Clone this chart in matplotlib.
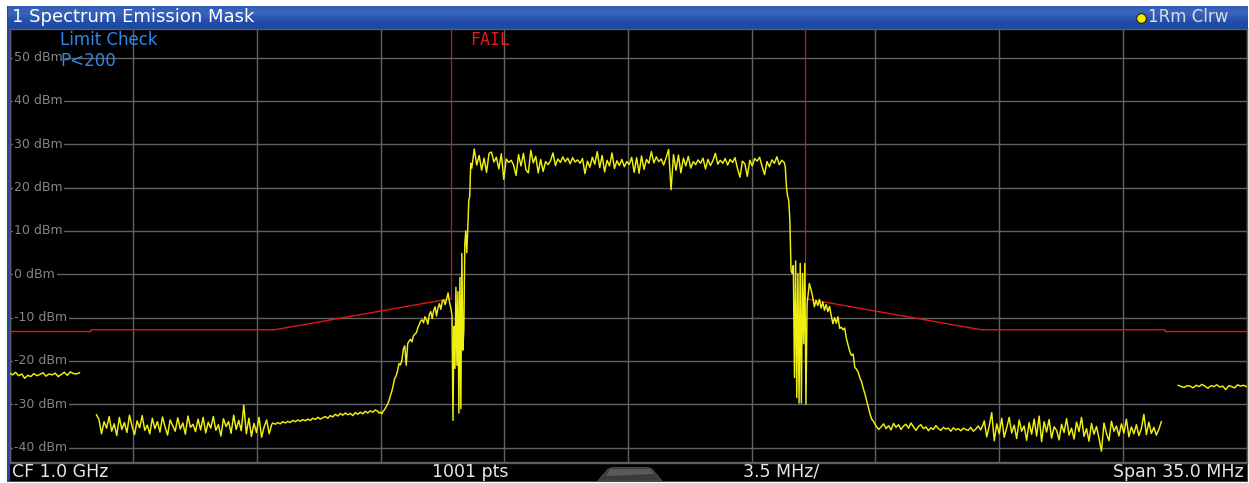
import numpy as np
import matplotlib
matplotlib.use('Agg')
import matplotlib.pyplot as plt
from matplotlib.patches import Polygon

W, H = 1249, 483

def box(x0, y0, x1, y1):
    # pixel box (top-left origin) -> figure fraction
    return [x0 / W, 1 - y1 / H, (x1 - x0) / W, (y1 - y0) / H]

#%% trace data (MHz offset from CF, dBm)

# left outer segment
lo_f = (-17.5, -15.52)
lo_dbm = [-22.8, -23.2, -22.6, -23.4, -23.0, -24.0, -23.3, -23.6, -22.9, -23.4, -23.1, -22.7,
          -23.5, -23.0, -23.2, -22.8, -23.6, -23.1, -22.6, -23.3, -22.5, -22.9, -23.0, -22.7]

# right outer segment
hi_f = (15.57, 17.5)
hi_dbm = [-25.6, -25.9, -26.1, -25.7, -25.8, -26.2, -25.6, -25.9, -25.4, -25.8, -26.3, -25.7,
          -25.9, -25.5, -26.0, -25.8, -26.6, -25.7, -25.9, -26.2, -25.5, -25.8, -25.6, -25.9]

# main trace, piece by piece
floor_l_f = (-15.04, -10.08)
floor_l = [-32.4, -33.5, -36.8, -34.0, -35.5, -32.8, -36.2, -34.5, -37.2, -33.0, -35.8, -34.2,
           -36.5, -32.5, -35.0, -37.0, -33.8, -35.4, -32.6, -36.0, -34.8, -36.8, -33.2, -35.6,
           -34.0, -36.4, -32.9, -35.2, -37.1, -33.6, -34.9, -36.2, -33.1, -35.7, -34.3, -36.9,
           -32.7, -35.3, -34.6, -36.3, -33.4, -35.9, -33.0, -36.6, -34.1, -35.5, -32.8, -36.0,
           -34.7, -37.3, -33.3, -35.1, -34.0, -36.7, -32.5, -35.8, -33.7, -36.1, -30.2, -36.8,
           -33.2, -37.4, -34.4, -36.5, -33.0, -37.6, -35.2, -33.6, -36.8, -34.6]

smooth_l_f = (-10.05, -7.08)
smooth_l = [-34.3, -34.6, -34.2, -34.5, -34.0, -34.3, -33.9, -34.2, -33.7, -34.0, -33.6, -33.9,
            -33.5, -33.8, -33.4, -33.7, -33.2, -33.5, -33.0, -33.4, -33.1, -32.8, -33.2, -32.6,
            -32.9, -32.3, -32.7, -32.1, -32.5, -32.0, -32.4, -32.1, -32.6, -31.9, -32.3, -31.8,
            -32.2, -31.6, -32.0, -31.5, -31.8, -31.3, -31.6]

rise_l_f = (-7.05, -5.01)
rise_l = [-32.0, -31.8, -32.2, -31.6, -31.2, -30.6, -30.0, -29.2, -28.0, -27.0, -25.6, -24.0,
          -23.4, -22.2, -20.6, -20.9, -19.8, -17.2, -16.5, -21.0, -16.0, -15.4, -15.0, -15.6,
          -14.2, -13.8, -13.5, -12.4, -11.6, -10.8, -10.5, -11.2, -9.8, -10.4, -11.5, -9.3,
          -8.6, -10.2, -8.4, -7.5, -9.6, -7.8, -6.8, -8.1, -6.2, -5.9, -7.0, -5.6, -4.3, -6.4, -7.9]

edge_l_f = (-4.98, -4.45)
edge_l = [-9.5, -33.7, -12.0, -21.7, -3.0, -21.0, -4.0, -32.0, -0.7, -31.0, 4.8, -17.5,
          -13.0, 7.0, 10.0, 5.0, 10.5, 17.0, 18.0, 25.6]

plateau_f = (-4.42, 4.42)
plateau = [24.5, 28.9, 25.2, 27.4, 24.0, 26.8, 23.5, 27.9, 28.2, 25.9, 27.0, 24.3,
           27.8, 21.9, 26.6, 25.8, 26.3, 25.2, 22.8, 27.6, 25.0, 27.9, 24.1, 23.4,
           28.6, 25.7, 27.2, 23.4, 26.5, 23.7, 26.0, 25.3, 26.2, 28.0, 25.1, 26.6,
           25.8, 27.1, 26.0, 26.8, 25.5, 26.9, 25.9, 26.4, 25.6, 26.7, 23.2, 26.1,
           24.7, 27.0, 25.4, 28.3, 24.6, 27.4, 23.6, 26.3, 25.0, 28.0, 24.4, 26.2,
           25.1, 26.5, 24.8, 26.0, 25.3, 27.0, 23.5, 26.9, 23.3, 27.3, 24.2, 26.5,
           25.6, 28.3, 25.7, 27.1, 26.0, 26.6, 25.2, 26.9, 28.8, 19.5, 27.6, 24.0,
           27.5, 23.4, 26.8, 25.0, 27.2, 24.5, 26.0, 25.3, 26.4, 25.6, 26.8, 24.3,
           26.5, 25.1, 26.2, 27.9, 25.4, 26.3, 25.6, 26.7, 25.2, 26.5, 25.8, 26.9,
           24.4, 22.4, 26.1, 25.5, 22.6, 26.3, 25.0, 26.7, 26.1, 27.0, 24.9, 23.0,
           26.0, 24.8, 26.4, 25.6, 27.1, 25.3, 26.3, 25.8]

edge_r_f = (4.45, 5.10)
edge_r = [24.8, 20.2, 18.0, 17.1, 12.5, 0.9, 0.2, 2.0, -23.8, 3.1, -28.4, 0.2,
          -29.7, 2.5, -29.7, 0.2, -16.0, 2.5, -30.0, -6.7, -4.5]

skirt_r_f = (5.13, 6.99)
skirt_r = [-2.1, -3.5, -5.2, -7.5, -6.0, -7.2, -5.8, -7.8, -6.4, -8.3, -7.0, -8.6,
           -7.4, -9.5, -11.4, -10.0, -11.3, -9.8, -12.5, -12.2, -12.8, -12.4, -14.8, -16.3,
           -17.8, -18.7, -18.4, -21.5, -21.9, -22.6, -23.9, -24.8, -26.3, -27.6, -29.1, -30.6,
           -32.2, -33.4, -33.9, -34.6]

floor_r_f = (7.02, 10.05)
floor_r = [-35.0, -35.8, -35.2, -34.5, -35.6, -34.9, -35.9, -34.4, -35.3, -34.7, -35.8, -35.0,
           -34.6, -35.5, -34.3, -35.2, -36.0, -35.1, -34.7, -35.6, -35.2, -36.1, -35.4, -35.8,
           -34.9, -35.6, -36.0, -35.3, -35.7, -35.5, -36.2, -35.4, -35.9, -35.6, -36.1, -35.5,
           -35.8, -36.0, -35.3, -36.2, -35.7, -35.0, -35.9, -34.6]

noisy_r_f = (10.08, 15.09)
noisy_r = [-33.8, -37.5, -35.0, -31.9, -38.4, -34.5, -36.8, -33.2, -37.6, -35.4, -33.0, -36.6,
           -34.8, -37.9, -33.6, -36.2, -35.0, -38.3, -34.2, -36.9, -33.4, -37.3, -32.7, -38.6,
           -34.0, -36.4, -33.5, -37.8, -35.2, -36.0, -38.2, -34.6, -36.5, -33.3, -37.1, -35.5,
           -38.0, -34.1, -36.3, -33.0, -37.4, -35.6, -38.5, -34.4, -36.9, -35.1, -37.8, -40.8,
           -34.3, -36.7, -38.4, -33.9, -36.2, -35.0, -37.3, -34.5, -36.6, -33.4, -37.5, -35.2,
           -36.8, -34.7, -37.2, -35.6, -32.3, -37.0, -34.1, -36.7, -35.3, -37.1, -35.8, -34.0]

main_pieces = [(floor_l_f, floor_l), (smooth_l_f, smooth_l), (rise_l_f, rise_l),
               (edge_l_f, edge_l), (plateau_f, plateau), (edge_r_f, edge_r),
               (skirt_r_f, skirt_r), (floor_r_f, floor_r), (noisy_r_f, noisy_r)]

# limit line (SEM mask)
limit_f = [-17.5, -15.2, -15.2, -10.0, -5.0, 5.0, 10.0, 15.2, 15.2, 17.5]
limit_dbm = [-13.2, -13.2, -12.8, -12.8, -5.6, -5.6, -12.8, -12.8, -13.2, -13.2]
edge_freqs = [-5.0, 5.0]

y_ticks = [50, 40, 30, 20, 10, 0, -10, -20, -30, -40]
span = 35.0
ylim = (-43.3, 56.7)

#%% figure frame

fig = plt.figure(figsize=(W / 100, H / 100), dpi=100)
fig.patch.set_facecolor('white')

# blue window frame behind everything
bg = fig.add_axes(box(7, 6, 1248, 482))
bg.set_facecolor('#1e49a4')
bg.set_xticks([])
bg.set_yticks([])
for s in bg.spines.values():
    s.set_visible(False)

# title bar with gradient
tax = fig.add_axes(box(8, 6, 1248, 28))
grad = np.linspace(0, 1, 22).reshape(-1, 1)
tax.imshow(grad, cmap=matplotlib.colors.LinearSegmentedColormap.from_list(
    'bar', ['#3560b8', '#3a64bc', '#2450aa', '#1d49a4']),
    extent=(8, 1248, 28, 6), aspect='auto')
tax.set_xlim(8, 1248)
tax.set_ylim(28, 6)
tax.axis('off')
tax.text(12, 17.5, '1 Spectrum Emission Mask', color='white', fontsize=13,
         va='center', ha='left')
tax.plot([1141], [17.5], 'o', ms=7, mfc='#f4e800', mec='#202020', mew=0.8)
tax.text(1148, 17.5, '1Rm Clrw', color='#dcdce8', fontsize=12, va='center', ha='left')

#%% main diagram

ax = fig.add_axes(box(9.5, 28.5, 1246.5, 462))
ax.set_facecolor('black')
ax.set_xlim(-span / 2, span / 2)
ax.set_ylim(*ylim)
ax.set_xticks(np.arange(-span / 2, span / 2 + 0.01, span / 10))
ax.set_yticks(y_ticks)
ax.tick_params(length=0, labelbottom=False, labelleft=False)
ax.grid(True, color='#626262', lw=1.0)
for s in ax.spines.values():
    s.set_color('#5e5e5e')
    s.set_linewidth(1.0)

for v in y_ticks:
    ax.text(0.004, v, f'{v} dBm', transform=ax.get_yaxis_transform(),
            color='#858585', fontsize=9, va='center', ha='left', zorder=2.5,
            bbox=dict(facecolor='black', edgecolor='none', pad=1.0))

# limit line and its vertical edges
ax.plot(limit_f[:5], limit_dbm[:5], color='#dd1818', lw=1.0, zorder=2.8)
ax.plot(limit_f[5:], limit_dbm[5:], color='#dd1818', lw=1.0, zorder=2.8)
for f in edge_freqs:
    lvl = limit_dbm[limit_f.index(f)]
    ax.plot([f, f], [lvl, ylim[1]], color='#c41a1a', lw=0.9, zorder=2.8)

# trace
trace_kw = dict(color='#f0f010', lw=1.05, zorder=3)
ax.plot(np.linspace(*lo_f, len(lo_dbm)), lo_dbm, **trace_kw)
ax.plot(np.linspace(*hi_f, len(hi_dbm)), hi_dbm, **trace_kw)
main_x = np.concatenate([np.linspace(*fr, len(v)) for fr, v in main_pieces])
main_y = np.concatenate([v for fr, v in main_pieces])
ax.plot(main_x, main_y, **trace_kw)

ax.text(0.041, 0.973, 'Limit Check', transform=ax.transAxes, color='#2f88ea',
        fontsize=12, va='center', ha='left', zorder=5)
ax.text(0.041, 0.925, 'P<200', transform=ax.transAxes, color='#2f88ea',
        fontsize=12, va='center', ha='left', zorder=5)
ax.text(0.372, 0.973, 'FAIL', transform=ax.transAxes, color='#e01c1c',
        fontsize=12, va='center', ha='left', zorder=5, family='DejaVu Sans Mono')

#%% status bar

sax = fig.add_axes(box(9.5, 462.5, 1246.5, 481))
sax.set_facecolor('black')
sax.set_xlim(9.5, 1246.5)
sax.set_ylim(481, 462.5)
sax.set_xticks([])
sax.set_yticks([])
for s in sax.spines.values():
    s.set_visible(False)
sax.axhline(462.8, color='#5e5e5e', lw=1.0)
sax.add_patch(Polygon([(598, 481), (608, 469), (612, 467.5), (648, 467.5), (652, 469), (662, 481)],
                      closed=True, facecolor='#3a3a3a', edgecolor='#555555', lw=0.6))
sax.add_patch(Polygon([(610, 469), (650, 469), (654, 474), (606, 476)],
                      closed=True, facecolor='#5a5a5a', edgecolor='none'))

st_kw = dict(color='#e6e6e6', fontsize=12.5, va='center')
sax.text(12, 472, 'CF 1.0 GHz', ha='left', **st_kw)
sax.text(470, 472, '1001 pts', ha='center', **st_kw)
sax.text(781, 472, '3.5 MHz/', ha='center', **st_kw)
sax.text(1244, 472, 'Span 35.0 MHz', ha='right', **st_kw)

fig.savefig('out.png', dpi=100, facecolor=fig.get_facecolor())
